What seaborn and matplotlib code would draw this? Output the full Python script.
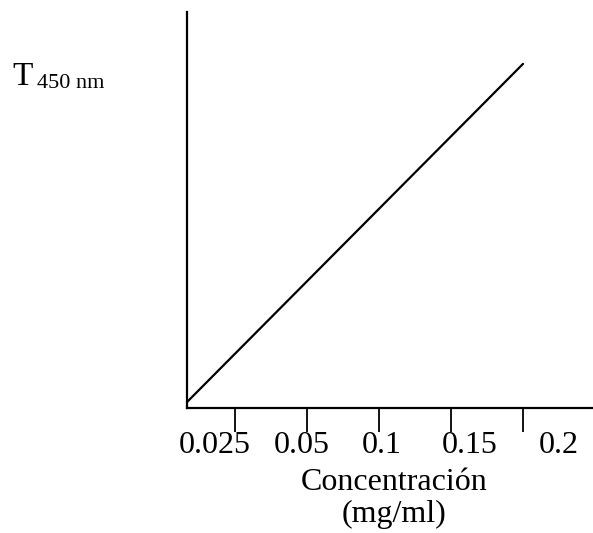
import matplotlib
matplotlib.use("Agg")
import matplotlib.pyplot as plt
import seaborn as sns
import pandas as pd

# ---- data ----
tick_slots = [1, 2, 3, 4, 5]                      # tick marks along the axis
tick_labels = ["0.025", "0.05", "0.1", "0.15", "0.2"]
label_slots = [0.72, 1.93, 3.04, 4.26, 5.49]       # where the labels sit (offset from ticks)
line_x = [0.333, 5.0]
line_y = [0.015, 0.869]

sns.set_theme(style="white")
plt.rcParams["font.family"] = ["Liberation Serif", "DejaVu Serif"]
plt.rcParams["text.color"] = "black"

W, H = 593, 533
fig = plt.figure(figsize=(W / 100, H / 100), dpi=100)
ax = fig.add_axes([187 / W, (H - 408) / H, (W - 187) / W, (408 - 12) / H])

df = pd.DataFrame({"x": line_x, "y": line_y})
sns.lineplot(data=df, x="x", y="y", ax=ax, color="black", linewidth=1.6)

ax.set_xlim(0.333, 5.972)
ax.set_ylim(0, 1)
for s in ["top", "right"]:
    ax.spines[s].set_visible(False)
for s in ["left", "bottom"]:
    ax.spines[s].set_color("black")
    ax.spines[s].set_linewidth(1.6)

ax.set_yticks([])
ax.set_xticks(tick_slots)
ax.set_xticklabels([])
ax.tick_params(axis="x", which="major", direction="out", length=17.3, width=1.3, color="black", bottom=True)
ax.set_xticks(label_slots, minor=True)
ax.set_xticklabels(tick_labels, minor=True, fontsize=23)
ax.tick_params(axis="x", which="minor", length=0, pad=16.5, labelcolor="black")
ax.set_xlabel("")
ax.set_ylabel("")

fig.text(394 / W, 1 - 490 / H, "Concentración", ha="center", va="baseline", fontsize=23, color="black")
fig.text(394 / W, 1 - 522 / H, "(mg/ml)", ha="center", va="baseline", fontsize=23, color="black")
fig.text(12 / W, 1 - 85 / H, "T", ha="left", va="baseline", fontsize=24, color="black")
fig.text(37 / W, 1 - 88 / H, "450 nm", ha="left", va="baseline", fontsize=16, color="black")

fig.savefig("out.png", dpi=100)
